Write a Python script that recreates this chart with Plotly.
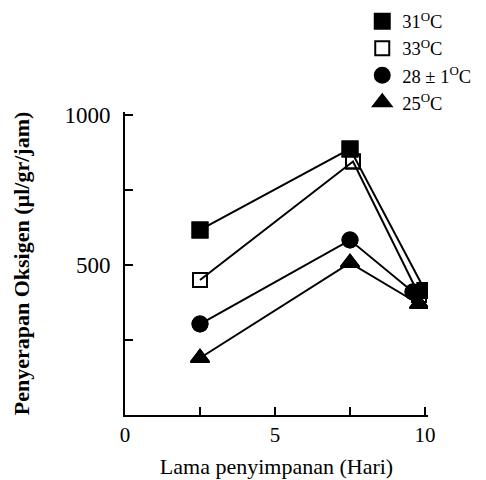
import plotly.graph_objects as go

# Data
x_31 = [2.5, 7.5, 10.0]
y_31 = [617, 887, 415]
x_33 = [2.5, 7.6, 9.8]
y_33 = [450, 845, 400]
x_28 = [2.5, 7.5, 9.6]
y_28 = [303, 583, 410]
x_25 = [2.5, 7.5, 9.8]
y_25 = [190, 507, 370]

series_names = ["31<sup>O</sup>C", "33<sup>O</sup>C", "28 ± 1<sup>O</sup>C", "25<sup>O</sup>C"]
x_tickvals = [0, 2.5, 5, 7.5, 10]
x_ticktext = ["0", "", "5", "", "10"]
y_tickvals = [250, 500, 750, 1000]
y_ticktext = ["", "500", "", "1000"]

FONT = "Liberation Serif"

fig = go.Figure()
specs = [
    (x_31, y_31, series_names[0], "square", 15),
    (x_33, y_33, series_names[1], "square-open", 14),
    (x_28, y_28, series_names[2], "circle", 15),
    (x_25, y_25, series_names[3], "triangle-up", 16),
]
for xs, ys, name, sym, size in specs:
    # line + markers on the plot
    fig.add_trace(go.Scatter(
        x=xs, y=ys, name=name, mode="lines+markers", showlegend=False,
        line=dict(color="black", width=2),
        marker=dict(symbol=sym, size=size, color="black",
                    line=dict(color="black", width=2)),
    ))
for xs, ys, name, sym, size in specs:
    # marker-only entry for the legend
    fig.add_trace(go.Scatter(
        x=xs, y=ys, name=name, mode="markers", showlegend=True,
        marker=dict(symbol=sym, size=size, color="black",
                    line=dict(color="black", width=2)),
        hoverinfo="skip",
    ))

fig.update_layout(
    width=486, height=480,
    margin=dict(l=125, r=58, t=112, b=65, autoexpand=False),
    paper_bgcolor="white", plot_bgcolor="white",
    font=dict(family=FONT, color="black", size=20),
    showlegend=True,
    legend=dict(
        x=0.783, y=0.968, xanchor="left", yanchor="bottom",
        font=dict(family=FONT, size=18.5, color="black"),
        bgcolor="rgba(0,0,0,0)", itemwidth=30,
        tracegroupgap=0,
    ),
    xaxis=dict(
        range=[0, 10.1], showgrid=False, zeroline=False,
        showline=True, linecolor="black", linewidth=2,
        ticks="inside", ticklen=8, tickwidth=2, tickcolor="black",
        tickvals=x_tickvals, ticktext=x_ticktext,
        tickfont=dict(family=FONT, size=21),
        automargin=False,
        title=dict(text="Lama penyimpanan (Hari)",
                   font=dict(family=FONT, size=22), standoff=12),
    ),
    yaxis=dict(
        range=[0, 1010], showgrid=False, zeroline=False,
        showline=True, linecolor="black", linewidth=2,
        ticks="inside", ticklen=8, tickwidth=2, tickcolor="black",
        tickvals=y_tickvals, ticktext=y_ticktext,
        ticklabelstandoff=8,
        tickfont=dict(family=FONT, size=23),
        automargin=False,
        title=dict(text="<b>Penyerapan Oksigen (µl/gr/jam)</b>",
                   font=dict(family=FONT, size=22), standoff=29),
    ),
)

fig.write_html(
    "out.html",
    config={"displayModeBar": False},
    post_script="document.body.style.margin='0';document.body.style.overflow='hidden';",
)
